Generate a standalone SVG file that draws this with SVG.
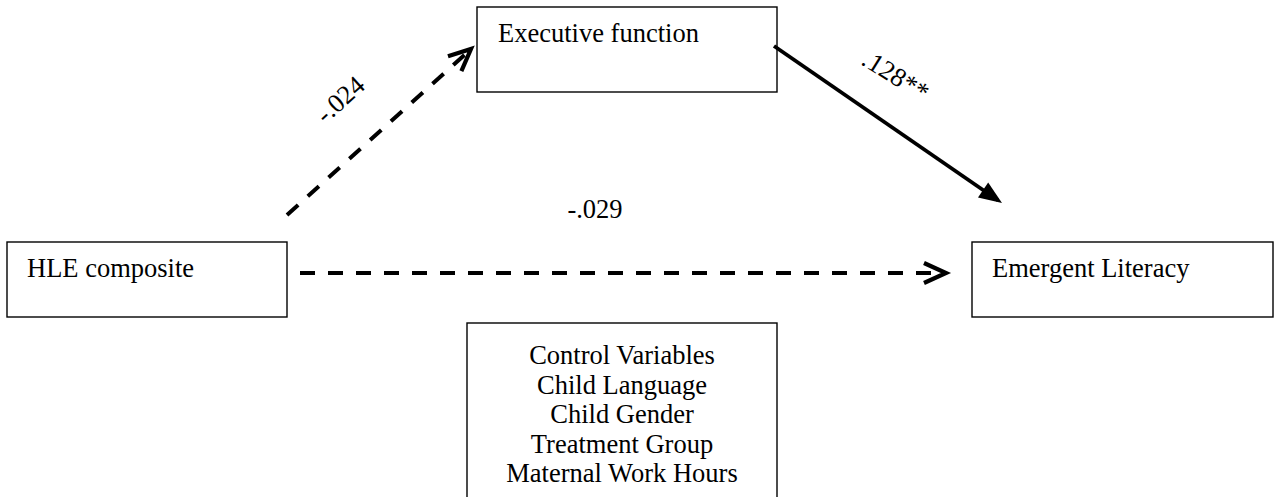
<svg xmlns="http://www.w3.org/2000/svg" width="1275" height="497" viewBox="0 0 1275 497" font-family="'Liberation Serif','Times New Roman',serif">
<defs>
<style>
.box{fill:#fff;stroke:#000;stroke-width:1.4}
.t{font-family:"Liberation Serif","Times New Roman",serif;font-size:26.5px;fill:#000}
.c{text-anchor:middle}
.dash{fill:none;stroke:#000;stroke-width:4;stroke-dasharray:15 13}
.solid{fill:none;stroke:#000;stroke-width:3.8}
</style>
<marker id="open" markerUnits="userSpaceOnUse" viewBox="-30 -15 35 30" refX="0" refY="0" markerWidth="35" markerHeight="30" orient="auto" overflow="visible">
<path d="M-22,-10 L0,0 L-22,10" fill="none" stroke="#000" stroke-width="4.2"/>
</marker>
<marker id="filled" markerUnits="userSpaceOnUse" viewBox="-30 -15 35 30" refX="0" refY="0" markerWidth="35" markerHeight="30" orient="auto" overflow="visible">
<path d="M5,0 L-18,-9 L-18,9 Z" fill="#000"/>
</marker>
</defs>
<g id="node-exec">
<rect class="box" x="477" y="7" width="300" height="85"/>
<text class="t" x="498" y="42">Executive function</text>
</g>
<g id="node-hle">
<rect class="box" x="7" y="242" width="280" height="75"/>
<text class="t" x="27" y="277">HLE composite</text>
</g>
<g id="node-lit">
<rect class="box" x="972" y="242" width="301" height="75"/>
<text class="t" x="992" y="277">Emergent Literacy</text>
</g>
<g id="node-control">
<rect class="box" x="467" y="323" width="310" height="200"/>
<text class="t c" x="622" y="364">Control Variables</text>
<text class="t c" x="622" y="393.5">Child Language</text>
<text class="t c" x="622" y="423">Child Gender</text>
<text class="t c" x="622" y="452.5">Treatment Group</text>
<text class="t c" x="622" y="482">Maternal Work Hours</text>
</g>
<g id="connectors">
<path class="dash" d="M287,215 L471,49" marker-end="url(#open)"/>
<path class="dash" d="M300,273 L946,273" marker-end="url(#open)"/>
<path class="solid" d="M774,46 L997.9,200.2" marker-end="url(#filled)"/>
<text class="t c" transform="translate(346,106) rotate(-42)">-.024</text>
<text class="t c" x="595" y="218">-.029</text>
<text class="t c" transform="translate(891,83) rotate(32)">.128**</text>
</g>
</svg>
